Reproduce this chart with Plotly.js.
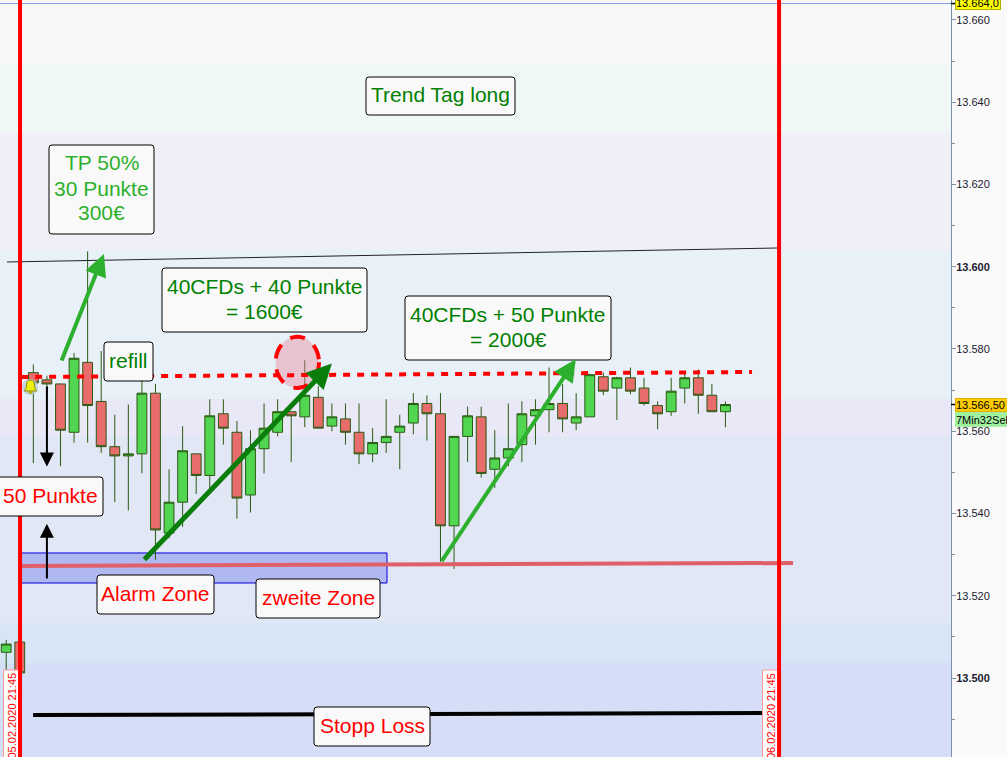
<!DOCTYPE html>
<html><head><meta charset="utf-8">
<script src="https://cdn.plot.ly/plotly-3.0.1.min.js"></script>
<style>html,body{margin:0;padding:0;background:#fafafa;overflow:hidden}#chart{width:1007px;height:757px}</style>
</head><body><div id="chart"></div>
<script>
// Candle sequence numbers and OHLC prices
const candleIndex = [0,1,2,3,4,5,6,7,8,9,10,11,12,13,14,15,16,17,18,19,20,21,22,23,24,25,26,27,28,29,30,31,32,33,34,35,36,37,38,39,40,41,42,43,44,45,46,47,48,49,50,51,52,53];
const open = [13506.25,13508.75,13574.25,13572.5,13571.5,13559.75,13576.75,13567.25,13556.25,13554,13554.5,13569.25,13535.25,13542.75,13554.5,13549.25,13564.25,13559.75,13544.5,13555.75,13559.75,13564.75,13563.5,13568.25,13561.25,13563,13559.75,13554.5,13557.25,13559.75,13562,13566.75,13564.25,13537,13558.75,13563.5,13550.75,13553.5,13556.75,13563.75,13565.25,13566.75,13562,13563.5,13573.25,13570.5,13573,13570.5,13566.25,13564.75,13570.5,13573,13568.75,13564.75];
const high = [13509.25,13508.75,13576.25,13573.5,13571.5,13579,13603.75,13579.5,13564,13566.5,13572.5,13571.5,13550.75,13561.25,13554.5,13567.75,13567.75,13562.5,13560.25,13566.75,13567.75,13564.75,13577.25,13571,13566.75,13566.75,13566.75,13560.75,13567.75,13564,13569.25,13568.75,13569.25,13558.75,13566,13566,13560.25,13566.75,13567.25,13567.75,13575.5,13571.5,13569.25,13574,13574.25,13573.25,13575.5,13573,13567.25,13573,13574.25,13575,13571.5,13567.25];
const low = [13501.5,13501.25,13552.25,13552,13551.5,13557.25,13557.25,13554.75,13542.75,13540.75,13549.75,13528.75,13534,13536.75,13544.75,13546,13556.75,13538.75,13540.25,13549.75,13558.75,13552.5,13561,13560.75,13560,13556.75,13552,13552.5,13554.75,13550.75,13559.25,13557.75,13528.25,13526.5,13552.5,13548.75,13546.25,13551.5,13552.5,13556.75,13559.75,13559.75,13560.25,13563.5,13568.75,13562.75,13569,13566.25,13560.5,13563.75,13566.75,13564.25,13564.75,13561];
const close = [13508.25,13501.25,13571.75,13571.5,13560.25,13577.75,13566.25,13556.25,13554,13554.5,13569.25,13536,13542.75,13555.25,13549.25,13563.75,13560.75,13543.75,13555.75,13560.75,13564.75,13563.75,13568.75,13560.75,13563.5,13559.75,13554.5,13557.25,13558.75,13561.25,13566.75,13564.25,13537,13558.75,13563.75,13549.75,13553.5,13555.75,13564.25,13565.25,13566.75,13563,13563.5,13573.75,13569.75,13573,13569.75,13566.75,13564.25,13569.75,13573,13568.75,13564.75,13566.5];

// Axis ticks
const tickValues = [13660,13640,13620,13600,13580,13560,13540,13520,13500];
const tickLabels = ["13.660","13.640","13.620","<b>13.600</b>","13.580","13.560","13.540","13.520","<b>13.500</b>"];

// Background price zones, top to bottom
const zoneEdges = [13670,13649.06,13632.52,13604.07,13567.84,13558.84,13513.4,13503.65,13470];
const zoneColors = ["#f8f8f8","#eff7f7","#efeff8","#e8f0f8","#e9e8f6","#e1e7f5","#d7e6f6","#d6def7"];

// Drawn lines, in candle index / price
const resistanceLine = {x:[0.06,56.88], y:[13601.16,13604.56]};
const entryLine = {x:[1.1,54.96], y:[13573.19,13574.41]};
const supportLine = {x:[1.02,57.98], y:[13527.23,13527.96]};
const stopLine = {x:[1.98,56.0], y:[13491,13491.5]};
const alarmZone = {x:[1.02,28.06], y:[13523.1,13530.4]};
const targetCircle = {x:[19.85,23.05], y:[13570.5,13583]};
const sessionEdges = [1.02,56.95];

const WIDTH=1007, HEIGHT=757, PW=951;
const px = v => v/PW, py = v => 1 - v/HEIGHT;

const shapes = [];
for (let i=0;i<zoneColors.length;i++){
  shapes.push({type:'rect',layer:'below',xref:'paper',yref:'y',x0:0,x1:1,y0:zoneEdges[i],y1:zoneEdges[i+1],fillcolor:zoneColors[i],line:{width:0}});
}
shapes.push({type:'rect',layer:'below',xref:'x',yref:'y',x0:alarmZone.x[0],x1:alarmZone.x[1],y0:alarmZone.y[0],y1:alarmZone.y[1],fillcolor:'#b0b8f2',line:{color:'#0000e0',width:1}});
const seg=(o,color,width,dash)=>({type:'line',xref:'x',yref:'y',x0:o.x[0],x1:o.x[1],y0:o.y[0],y1:o.y[1],line:{color,width,dash:dash||'solid'}});
shapes.push({type:'line',xref:'paper',yref:'y',x0:0,x1:1,y0:13664,y1:13664,line:{color:'#7f9fe8',width:1}});
shapes.push(seg(resistanceLine,'#222222',1));
shapes.push({type:'circle',xref:'x',yref:'y',x0:targetCircle.x[0],x1:targetCircle.x[1],y0:targetCircle.y[0],y1:targetCircle.y[1],fillcolor:'rgba(232,130,150,0.42)',line:{color:'#ff0000',width:4,dash:'15px,11px'}});
shapes.push(seg(entryLine,'#ff0000',4,'7px,7px'));
shapes.push(seg(supportLine,'#e0606a',4));
shapes.push(seg(stopLine,'#000000',4));

// date flags behind the session lines
function flag(l,r){ shapes.push({type:'rect',xref:'paper',yref:'paper',x0:px(l),x1:px(r),y0:py(670),y1:py(770),fillcolor:'#fbfbfb',line:{color:'#ff9a9a',width:1}}); }
flag(3.5,19); flag(762.5,778);
sessionEdges.forEach(x=>shapes.push({type:'line',xref:'x',yref:'paper',x0:x,x1:x,y0:0,y1:1,line:{color:'#ff0000',width:4}}));

// current price marks on the axis
shapes.push({type:'line',xref:'paper',yref:'y',x0:1,x1:1.005,y0:13566.5,y1:13566.5,line:{color:'#000',width:1.5}});
shapes.push({type:'line',xref:'paper',yref:'y',x0:1,x1:1.005,y0:13664,y1:13664,line:{color:'#000',width:1.5}});

function p(x,y){return px(x)+' '+py(y);}
// bell alert icon
shapes.push({type:'circle',xref:'paper',yref:'paper',x0:px(22),x1:px(38),y0:py(395),y1:py(379),fillcolor:'rgba(190,205,225,0.8)',line:{width:0}});
shapes.push({type:'path',xref:'paper',yref:'paper',
  path:`M ${p(24,391)} Q ${p(26.5,389)} ${p(26.5,385)} Q ${p(26.5,380)} ${p(30.5,380)} Q ${p(34.5,380)} ${p(34.5,385)} Q ${p(34.5,389)} ${p(37,391)} Z`,
  fillcolor:'#eeee10',line:{color:'#8a8a10',width:1}});
shapes.push({type:'circle',xref:'paper',yref:'paper',x0:px(28.5),x1:px(32.5),y0:py(394),y1:py(390.5),fillcolor:'#b0b000',line:{width:0}});

const annotations = [];
const LINE=25;
function label(lines,color,l,t,r,b,textCenter){
  const R=3;
  shapes.push({type:'path',xref:'paper',yref:'paper',
    path:`M ${p(l+R,t)} L ${p(r-R,t)} Q ${p(r,t)} ${p(r,t+R)} L ${p(r,b-R)} Q ${p(r,b)} ${p(r-R,b)} L ${p(l+R,b)} Q ${p(l,b)} ${p(l,b-R)} L ${p(l,t+R)} Q ${p(l,t)} ${p(l+R,t)} Z`,
    fillcolor:'#f9f9f9',line:{color:'#000',width:1}});
  const cx = textCenter===undefined ? (l+r)/2 : textCenter, cy=(t+b)/2-1.5;
  lines.forEach((text,i)=>annotations.push({xref:'paper',yref:'paper',x:px(cx),y:py(cy+(i-(lines.length-1)/2)*LINE),xanchor:'center',yanchor:'middle',text,showarrow:false,align:'center',
    font:{family:'Liberation Sans, Arial, sans-serif',size:21,color}}));
}
label(['Trend Tag long'],'#008000',366,77,515,115);
label(['TP 50%','30 Punkte','300€'],'#2db02d',49,145,154,234);
label(['40CFDs + 40 Punkte','= 1600€'],'#008000',162,268,367,332);
label(['refill'],'#008000',104,342,153,381);
label(['40CFDs + 50 Punkte','= 2000€'],'#008000',405,296,611,360);
label(['50 Punkte'],'#ff0000',-40,477,103,516,50);
label(['Alarm Zone'],'#ff0000',97,575,214,614);
label(['zweite Zone'],'#ff0000',256,579,380,618);
label(['Stopp Loss'],'#ff0000',314,707,430,746);

function arrow(x0,y0,x1,y1,color,width,head,size){
  annotations.push({xref:'x',yref:'y',axref:'x',ayref:'y',x:x1,y:y1,ax:x0,ay:y0,text:'',showarrow:true,arrowhead:head,arrowsize:size,arrowwidth:width,arrowcolor:color,standoff:0,startstandoff:0});
}
arrow(4.04,13576.84,7.2,13603.1,'#2db02d',4,2,1.1);
arrow(10.08,13528.45,24.0,13576.5,'#0a7d0a',5,2,1);
arrow(32.02,13528.04,41.97,13577.5,'#2db02d',4,2,1.1);
arrow(3.0,13571.25,3.0,13551.4,'#000000',2,2,1.4);
arrow(3.0,13523.83,3.0,13537.5,'#000000',2,2,1.4);

function axisTag(text,bg,top,bottom,right,border){
  const h=bottom-top;
  annotations.push({xref:'paper',yref:'paper',x:px(955),y:py(top),xanchor:'left',yanchor:'top',width:right-955-2,height:h-2,text,align:'left',valign:'middle',showarrow:false,bgcolor:bg,bordercolor:border,borderwidth:1,borderpad:0,
    font:{family:'Liberation Sans, Arial, sans-serif',size:11,color:'#000'}});
}
axisTag('13.664,0','#ffff00',-4,10,1001,'#b0b000');
axisTag('7Min32Sek','#a0f0a0',412,427,1030,'#a0f0a0');
axisTag('13.566,50','#ffcc00',398,412,1008,'#e0b000');

[['05.02.2020 21:45',11.5],['06.02.2020 21:45',771]].forEach(d=>annotations.push({xref:'paper',yref:'paper',x:px(d[1]),y:py(716),xanchor:'center',yanchor:'middle',textangle:-90,text:d[0],showarrow:false,
  font:{family:'Liberation Sans, Arial, sans-serif',size:11,color:'#ff0000'}}));

const trace = {type:'candlestick',x:candleIndex,open,high,low,close,whiskerwidth:0,hoverinfo:'skip',
  increasing:{line:{color:'#2a5a12',width:1},fillcolor:'#52d652'},
  decreasing:{line:{color:'#2a5a12',width:1},fillcolor:'#e86c6c'}};

Plotly.newPlot('chart',[trace],{
  width:WIDTH,height:HEIGHT,margin:{l:0,r:56,t:0,b:0,pad:0},
  paper_bgcolor:'#fafafa',plot_bgcolor:'#f8f8f8',showlegend:false,separators:',.',
  boxgap:0.15,boxgroupgap:0.15,
  xaxis:{visible:false,range:[-0.457,69.62],rangeslider:{visible:false},fixedrange:true},
  yaxis:{side:'right',range:[13480.79,13664.86],showgrid:false,zeroline:false,showline:true,linecolor:'#7a90a4',linewidth:1,
    tickmode:'array',tickvals:tickValues,ticktext:tickLabels,ticks:'outside',ticklen:4,tickcolor:'#7a90a4',ticklabelstandoff:-2,
    minor:{dtick:10,ticks:'outside',ticklen:3,tickcolor:'#7a90a4',showgrid:false},
    tickfont:{family:'Liberation Sans, Arial, sans-serif',size:11,color:'#1a1a30'},fixedrange:true},
  shapes,annotations
},{displayModeBar:false,staticPlot:true});
</script></body></html>
